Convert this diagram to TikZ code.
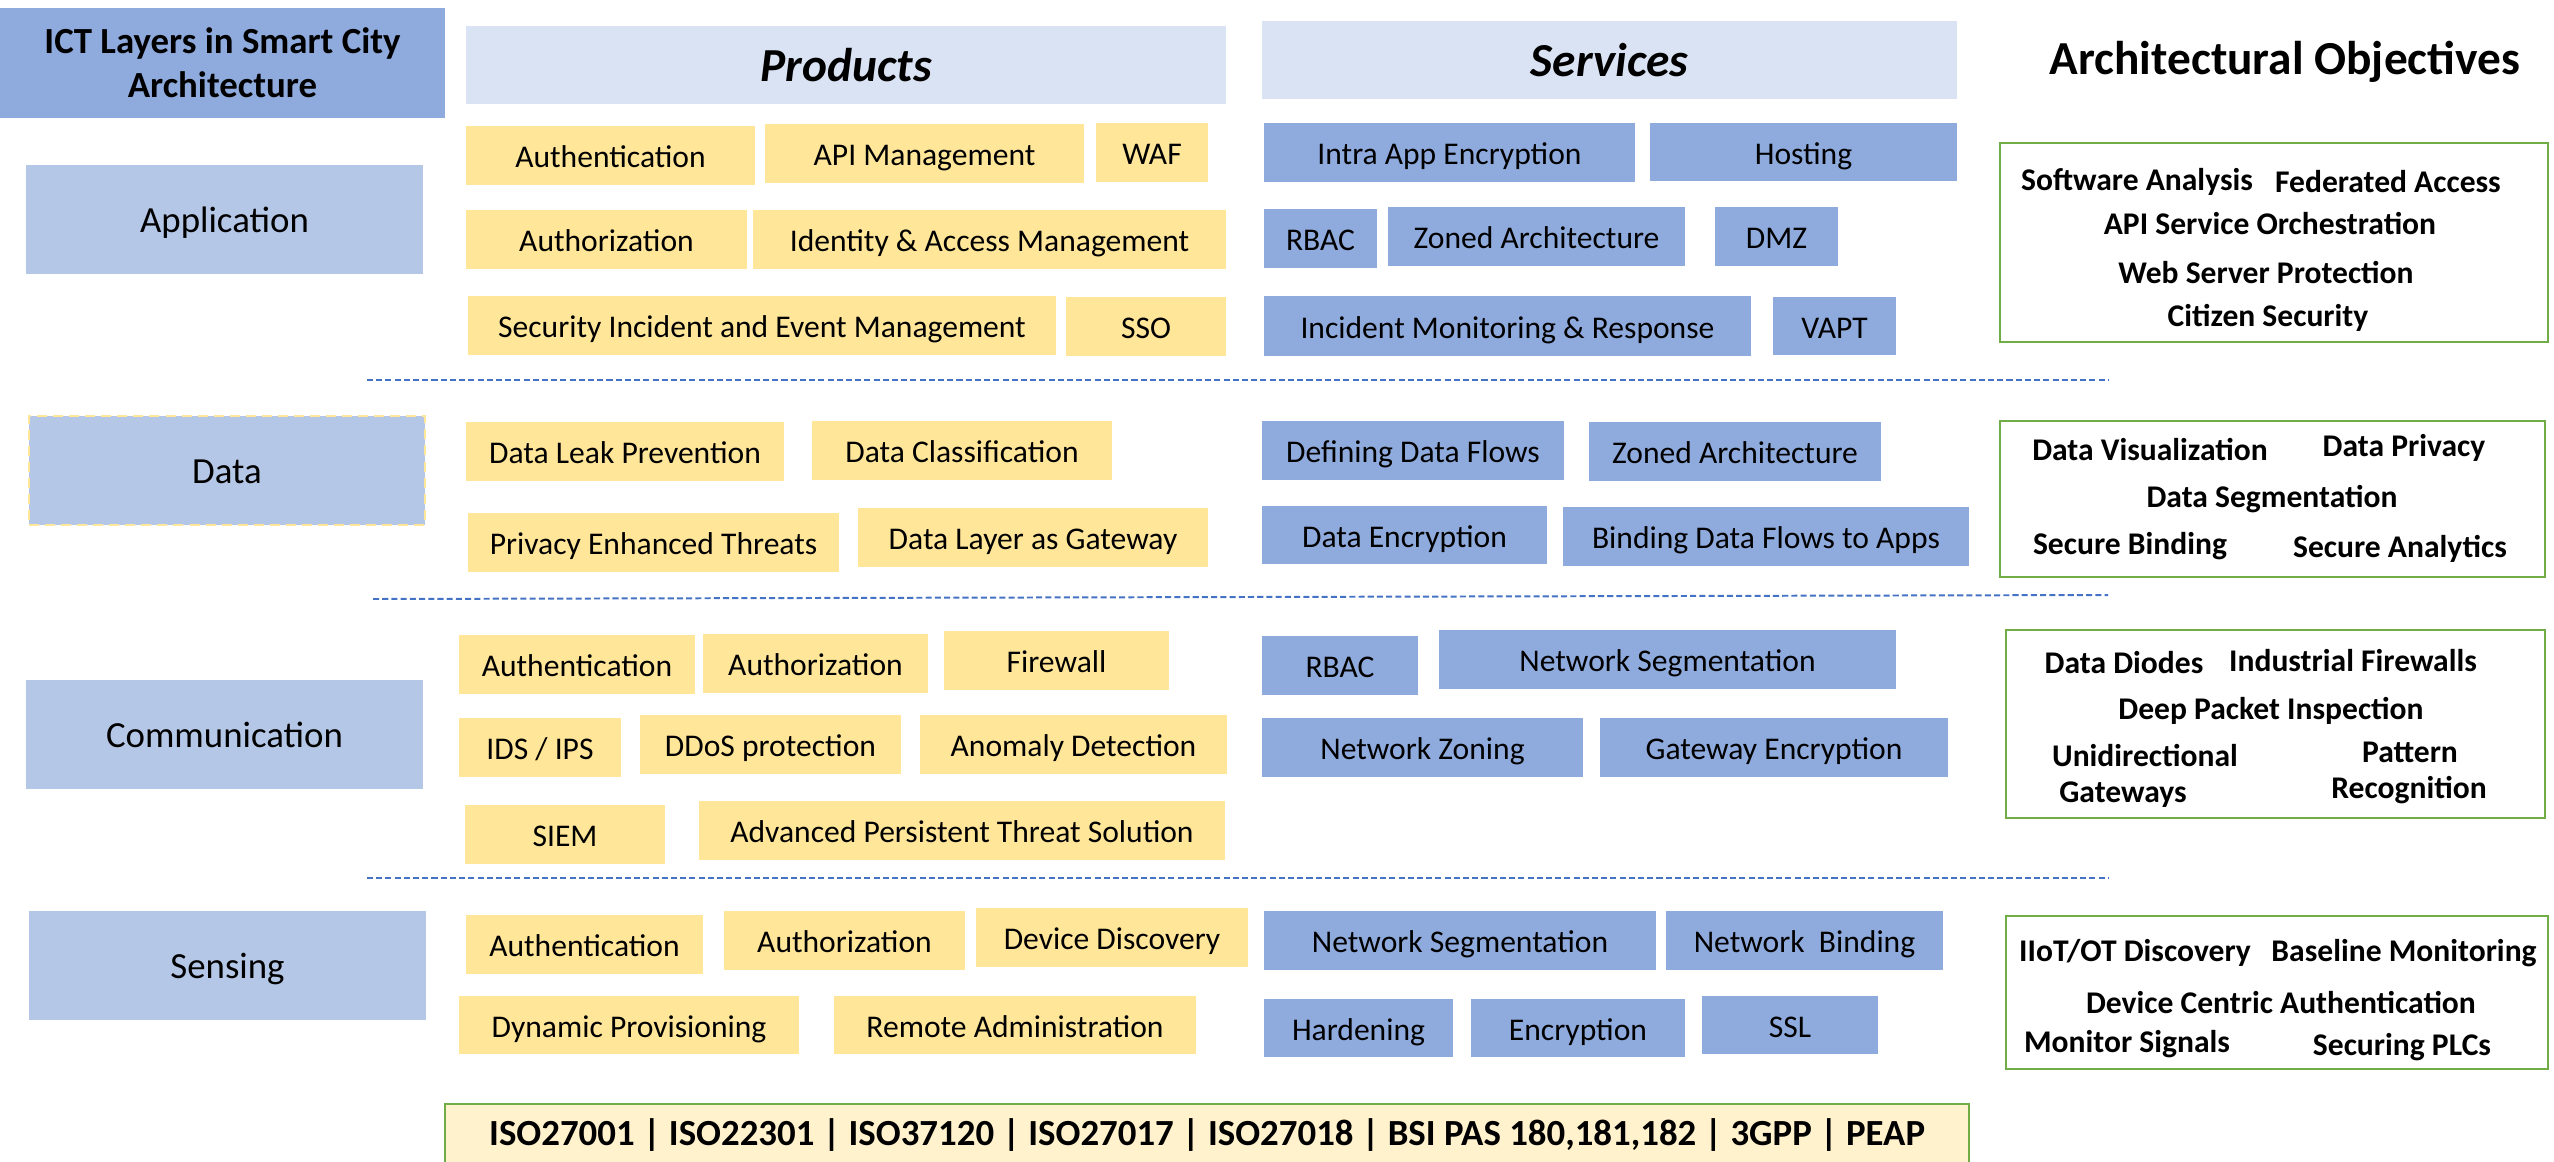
\documentclass[tikz,border=0pt]{standalone}
\usepackage{fontspec}
\setmainfont{Carlito}
\definecolor{prodyellow}{HTML}{FFE699}
\definecolor{servblue}{HTML}{8FAADC}
\definecolor{layerblue}{HTML}{B4C7E7}
\definecolor{headblue}{HTML}{DAE3F3}
\definecolor{objgreen}{HTML}{70AD47}
\definecolor{stdfill}{HTML}{FFF2CC}
\definecolor{sepblue}{HTML}{4472C4}

% box from pixel corners (x1,y1)-(x2,y2)
\newcommand\bx[7]{%
  \node[#6, minimum width={(#4-#2)*0.38pt}, minimum height={(#5-#3)*0.38pt}]
    (#1) at ({(#2+#4)/2},{(#3+#5)/2}) {#7};}

\begin{document}
\begin{tikzpicture}[x=0.38pt,y=-0.38pt,
  box/.style={inner sep=0pt, outer sep=0pt, align=center, text=black,
    font=\fontsize{12}{14.4}\selectfont},
  item/.style={box, text height=9.4pt, text depth=0pt},
  prod/.style={item, fill=prodyellow},
  serv/.style={item, fill=servblue},
  layer/.style={box, fill=layerblue, font=\fontsize{14}{16.8}\selectfont,
    text height=9.5pt, text depth=0pt},
  titlebox/.style={box, fill=servblue, font=\fontsize{14}{16.7}\selectfont\bfseries},
  head/.style={box, fill=headblue, font=\fontsize{18}{21.6}\selectfont\bfseries\itshape},
  objhead/.style={inner sep=0pt, font=\fontsize{18}{21.6}\selectfont\bfseries},
  objbox/.style={box, draw=objgreen, line width=1.1pt},
  obj/.style={inner sep=0pt, font=\fontsize{12}{14.4}\selectfont\bfseries},
  stdbox/.style={box, fill=stdfill, draw=objgreen, line width=0.6pt,
    font=\fontsize{14}{16.8}\selectfont\bfseries},
  databox/.style={layer, draw=prodyellow, line width=0.8pt, dash pattern=on 3.8pt off 2.3pt},
  sep/.style={draw=sepblue, line width=0.75pt, dash pattern=on 2.3pt off 1.2pt}]

\useasboundingbox[fill=white] (0,0) rectangle (2554,1161);

% column headings
\bx{title}{0}{8}{445}{118}{titlebox}{ICT Layers in Smart City\\Architecture}
\bx{hProd}{466}{26}{1226}{104}{head}{Products}
\bx{hServ}{1262}{21}{1957}{99}{head}{Services}
\node[objhead] (hObj) at (2285,62) {Architectural Objectives};

% ---- Application layer
\bx{app}{26}{165}{423}{274}{layer}{Application}
\bx{pAuthnA}{466}{126}{755}{185}{prod}{Authentication}
\bx{pApi}{765}{124}{1084}{183}{prod}{API Management}
\bx{pWaf}{1096}{123}{1208}{182}{prod}{WAF}
\bx{pAuthzA}{466}{210}{747}{269}{prod}{Authorization}
\bx{pIam}{753}{210}{1226}{269}{prod}{Identity \& Access Management}
\bx{pSiemA}{468}{296}{1056}{355}{prod}{Security Incident and Event Management}
\bx{pSso}{1066}{297}{1226}{356}{prod}{SSO}
\bx{sIntra}{1264}{123}{1635}{182}{serv}{Intra App Encryption}
\bx{sHost}{1650}{123}{1957}{181}{serv}{Hosting}
\bx{sRbacA}{1264}{209}{1377}{268}{serv}{RBAC}
\bx{sZoneA}{1388}{207}{1685}{266}{serv}{Zoned Architecture}
\bx{sDmz}{1715}{207}{1838}{266}{serv}{DMZ}
\bx{sImr}{1264}{296}{1751}{356}{serv}{Incident Monitoring \& Response}
\bx{sVapt}{1773}{297}{1896}{355}{serv}{VAPT}
\bx{oApp}{2000}{143}{2548}{342}{objbox}{}
\node[obj] (oApp1) at (2137,182) {Software Analysis};
\node[obj] (oApp2) at (2388,182) {Federated Access};
\node[obj] (oApp3) at (2270,224) {API Service Orchestration};
\node[obj] (oApp4) at (2266,273) {Web Server Protection};
\node[obj] (oApp5) at (2268,318) {Citizen Security};

\coordinate (sepAa) at (367,380);
\coordinate (sepAb) at (2108,380);
\draw[sep] (sepAa) -- (sepAb);

% ---- Data layer
\bx{data}{29}{416}{425}{525}{databox}{Data}
\bx{pDlp}{466}{422}{784}{481}{prod}{Data Leak Prevention}
\bx{pDc}{812}{421}{1112}{480}{prod}{Data Classification}
\bx{pPet}{468}{513}{839}{572}{prod}{Privacy Enhanced Threats}
\bx{pDlg}{858}{508}{1208}{567}{prod}{Data Layer as Gateway}
\bx{sDdf}{1262}{421}{1564}{480}{serv}{Defining Data Flows}
\bx{sZoneB}{1589}{422}{1881}{481}{serv}{Zoned Architecture}
\bx{sDe}{1262}{506}{1547}{564}{serv}{Data Encryption}
\bx{sBind}{1563}{507}{1969}{566}{serv}{Binding Data Flows to Apps}
\bx{oData}{2000}{421}{2545}{577}{objbox}{}
\node[obj] (oData1) at (2150,450) {Data Visualization};
\node[obj] (oData2) at (2404,448) {Data Privacy};
\node[obj] (oData3) at (2272,499) {Data Segmentation};
\node[obj] (oData4) at (2130,546) {Secure Binding};
\node[obj] (oData5) at (2400,549) {Secure Analytics};

\coordinate (sepBa) at (373,599);
\coordinate (sepBb) at (2108,595);
\draw[sep] (sepBa) -- (sepBb);

% ---- Communication layer
\bx{comm}{26}{680}{423}{789}{layer}{Communication}
\bx{pAuthnC}{459}{635}{695}{694}{prod}{Authentication}
\bx{pAuthzC}{703}{634}{928}{693}{prod}{Authorization}
\bx{pFw}{944}{631}{1169}{690}{prod}{Firewall}
\bx{pIds}{459}{718}{621}{777}{prod}{IDS / IPS}
\bx{pDdos}{640}{715}{901}{774}{prod}{DDoS protection}
\bx{pAd}{920}{715}{1227}{774}{prod}{Anomaly Detection}
\bx{pSiemC}{465}{805}{665}{864}{prod}{SIEM}
\bx{pApt}{699}{801}{1225}{860}{prod}{Advanced Persistent Threat Solution}
\bx{sRbacC}{1262}{636}{1418}{695}{serv}{RBAC}
\bx{sNsC}{1439}{630}{1896}{689}{serv}{Network Segmentation}
\bx{sNz}{1262}{718}{1583}{777}{serv}{Network Zoning}
\bx{sGe}{1600}{718}{1948}{777}{serv}{Gateway Encryption}
\bx{oComm}{2006}{630}{2545}{818}{objbox}{}
\node[obj] (oComm1) at (2124,663) {Data Diodes};
\node[obj] (oComm2) at (2353,661) {Industrial Firewalls};
\node[obj] (oComm3) at (2271,711) {Deep Packet Inspection};
\node[obj] (oComm4) at (2145,755) {Unidirectional};
\node[obj] (oComm5) at (2123,795) {Gateways};
\node[obj] (oComm6) at (2410,752) {Pattern};
\node[obj] (oComm7) at (2409,790) {Recognition};

\coordinate (sepCa) at (367,878);
\coordinate (sepCb) at (2108,878);
\draw[sep] (sepCa) -- (sepCb);

% ---- Sensing layer
\bx{sens}{29}{911}{426}{1020}{layer}{Sensing}
\bx{pAuthnS}{466}{915}{703}{974}{prod}{Authentication}
\bx{pAuthzS}{724}{911}{965}{970}{prod}{Authorization}
\bx{pDd}{976}{908}{1248}{967}{prod}{Device Discovery}
\bx{pDp}{459}{996}{799}{1054}{prod}{Dynamic Provisioning}
\bx{pRa}{834}{996}{1196}{1054}{prod}{Remote Administration}
\bx{sNsS}{1264}{911}{1656}{970}{serv}{Network Segmentation}
\bx{sNb}{1666}{911}{1943}{970}{serv}{Network\ \ Binding}
\bx{sHard}{1264}{999}{1453}{1057}{serv}{Hardening}
\bx{sEnc}{1471}{999}{1685}{1057}{serv}{Encryption}
\bx{sSsl}{1702}{996}{1878}{1054}{serv}{SSL}
\bx{oSens}{2006}{916}{2548}{1069}{objbox}{}
\node[obj] (oSens1) at (2135,953) {IIoT/OT Discovery};
\node[obj] (oSens2) at (2404,953) {Baseline Monitoring};
\node[obj] (oSens3) at (2281,1002) {Device Centric Authentication};
\node[obj] (oSens4) at (2127,1044) {Monitor Signals};
\node[obj] (oSens5) at (2402,1047) {Securing PLCs};

% ---- standards strip
\bx{std}{445}{1104}{1969}{1166}{stdbox}{ISO27001 | ISO22301 | ISO37120 | ISO27017 | ISO27018 | BSI PAS 180,181,182 | 3GPP | PEAP}

\end{tikzpicture}
\end{document}
